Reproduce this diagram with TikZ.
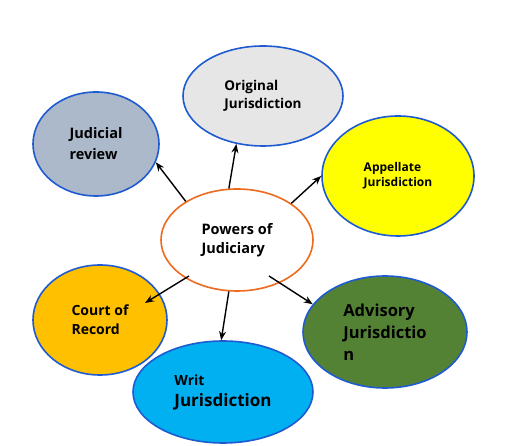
\documentclass[tikz,border=0pt]{standalone}
\usepackage{fontspec}
\setmainfont{Open Sans}
\usetikzlibrary{shapes.geometric,arrows.meta,calc}

\definecolor{rimblue}{HTML}{1F5BD0}
\definecolor{rimorange}{HTML}{EE6A1C}
\definecolor{origgrey}{HTML}{E7E6E6}
\definecolor{revslate}{HTML}{ACB9CA}
\definecolor{appyellow}{HTML}{FFFF00}
\definecolor{recamber}{HTML}{FFC000}
\definecolor{writcyan}{HTML}{00B0F0}
\definecolor{advgreen}{HTML}{548235}

\tikzset{
    power/.style={ellipse, draw=rimblue, line width=1.6pt, inner sep=0pt,
        align=left, font=\bfseries},
    hub/.style={power, draw=rimorange, fill=white},
    arr/.style={line width=1.4pt, -{Stealth[length=9pt,width=7pt]}},
}

\begin{document}
\begin{tikzpicture}[x=1pt, y=1pt]
    \useasboundingbox[fill=white] (0,0) rectangle (529,446);
    % centre and the six powers round it
    \node[hub, minimum width=152, minimum height=102, font=\bfseries\fontsize{14.5}{19}\selectfont]
        (powers) at (237,206) {Powers of\\Judiciary};
    \node[power, fill=origgrey, minimum width=160, minimum height=100,
        font=\bfseries\fontsize{13.5}{18}\selectfont]
        (original) at (263,350) {Original\\Jurisdiction};
    \node[power, fill=revslate, minimum width=126, minimum height=104,
        font=\bfseries\fontsize{14.5}{21}\selectfont]
        (review) at (96,302) {Judicial\\review};
    \node[power, fill=appyellow, minimum width=152, minimum height=120,
        font=\bfseries\fontsize{12}{15}\selectfont]
        (appellate) at (398,270) {Appellate\\Jurisdiction};
    \node[power, fill=recamber, minimum width=134, minimum height=110,
        font=\bfseries\fontsize{14}{19}\selectfont]
        (record) at (100,126) {Court of\\Record};
    \node[power, fill=writcyan, minimum width=180, minimum height=102,
        font=\bfseries\fontsize{14}{21}\selectfont]
        (writ) at (223,54) {Writ\\{\fontsize{17}{20}\selectfont Jurisdiction}};
    \node[power, fill=advgreen, minimum width=164, minimum height=112,
        font=\bfseries\fontsize{16.5}{22}\selectfont]
        (advisory) at (385,114) {Advisory\\Jurisdictio\\n};
    \coordinate (recordtip) at ($(record)+(45,17)$);
    \draw[arr] (powers.143) -- (review.343);
    \draw[arr] (powers.99) -- (original.241);
    \draw[arr] (powers.34) -- (appellate.180);
    \draw[arr] ($(powers)+(-48,-36)$) -- (recordtip);
    \draw[arr] (powers.261) -- (writ.92);
    \draw[arr] ($(powers)+(32,-36)$) -- (advisory.159);
\end{tikzpicture}
\end{document}
